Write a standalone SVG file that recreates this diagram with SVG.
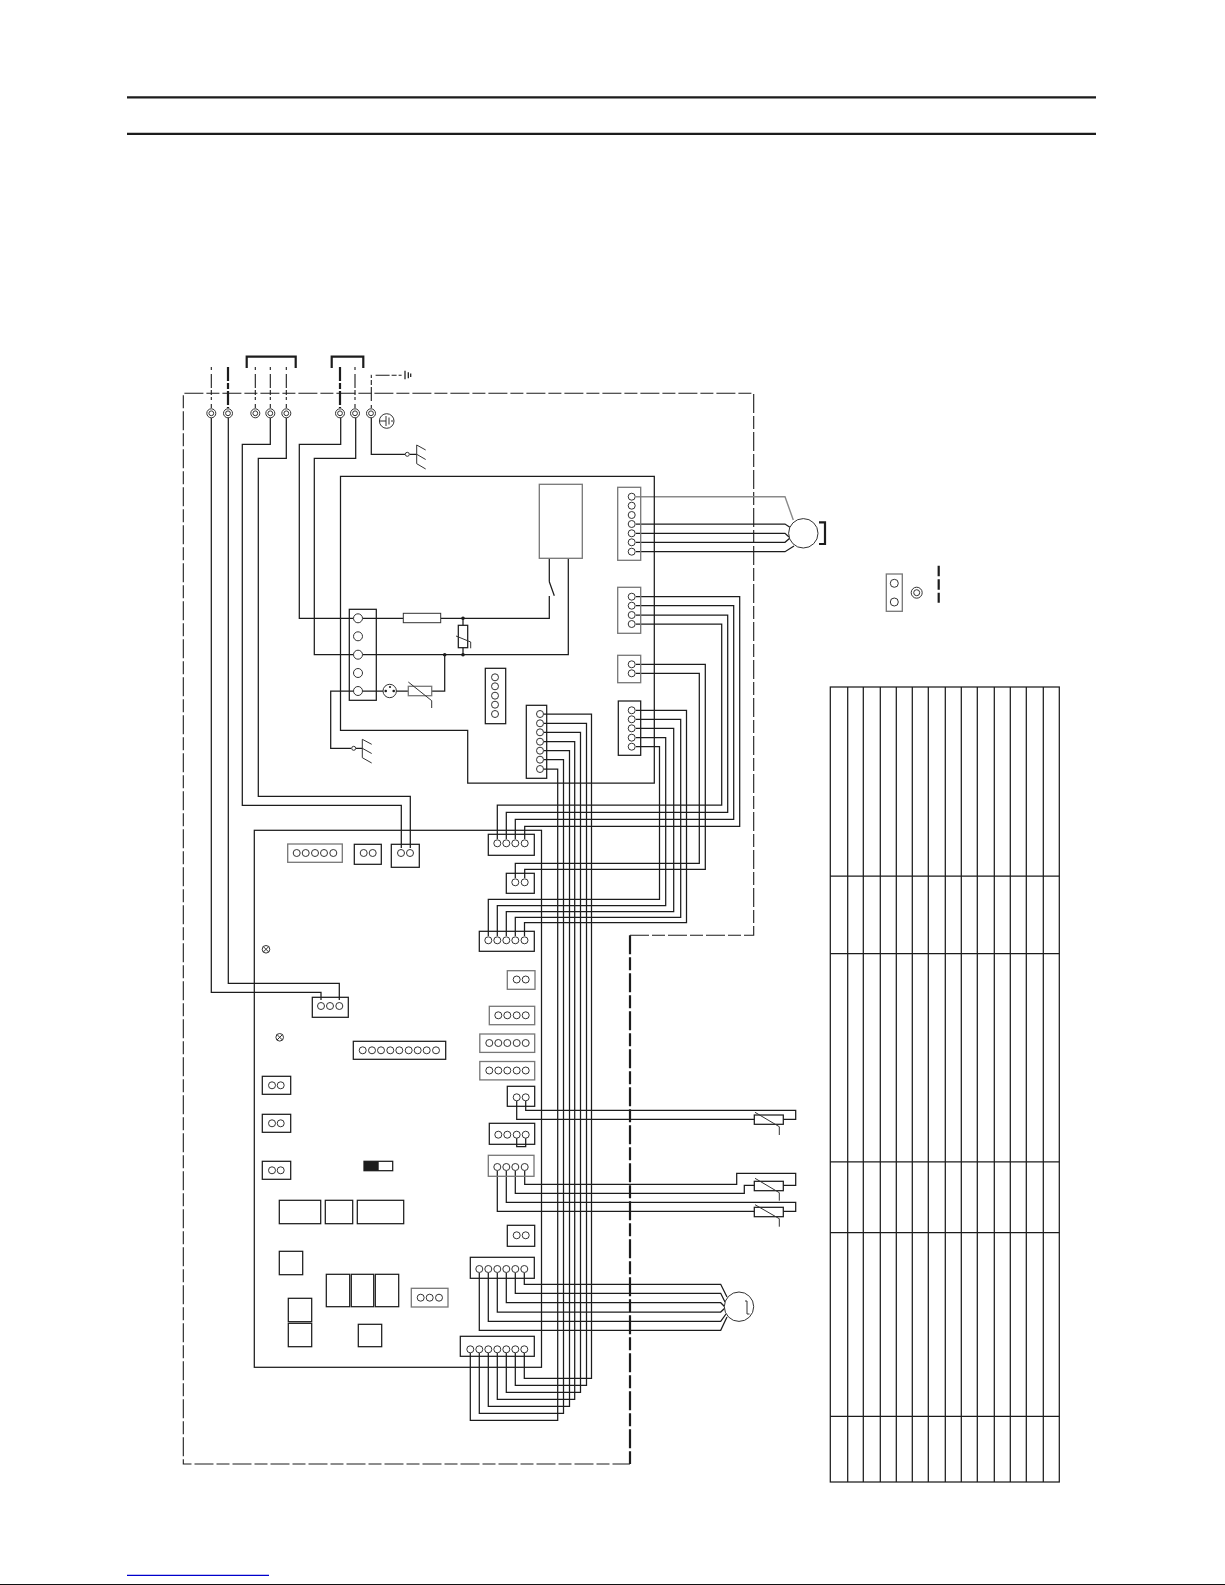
<svg xmlns="http://www.w3.org/2000/svg" width="1225" height="1585" viewBox="0 0 1225 1585">
<style>
.w{fill:none;stroke:#1c1c1c;stroke-width:1.25}
.g{fill:none;stroke:#8a8a8a;stroke-width:1.4}
.b{fill:none;stroke:#1c1c1c;stroke-width:1.25}
.bg{fill:none;stroke:#777;stroke-width:1.3}
.p{fill:#fff;stroke:#333;stroke-width:1}
.t{fill:none;stroke:#333;stroke-width:1}
.d{fill:none;stroke:#1c1c1c;stroke-width:1.1;stroke-dasharray:3 4 14 2 5 2}
.dk{fill:none;stroke:#1c1c1c;stroke-width:2.2;stroke-dasharray:14 2 6 2}
.f{fill:none;stroke:#1c1c1c;stroke-width:1.1;stroke-dasharray:19 3 13 3}
.fk{fill:none;stroke:#1c1c1c;stroke-width:2.2;stroke-dasharray:19 3 13 3}
.h{fill:none;stroke:#1c1c1c;stroke-width:2.2}
</style>
<g id="page-rules">
<path class="h" d="M127 97.3H1096M127 133.8H1096"/>
<path d="M127 1575.3H269" fill="none" stroke="#0000cc" stroke-width="1.2"/>
<rect x="0" y="1584" width="1225" height="1" fill="#111"/>
</g>
<g id="frame">
<path class="f" d="M630 935.3H753.7V393.3H183.3V1464H630"/>
<path class="fk" d="M630 935.3V1464"/>
</g>
<g id="brackets">
<path class="h" d="M246.7 368V356.7H295.7V368M331.7 368V356.7H363.3V368M819 522.3H825V544H819"/>
</g>
<g id="connectors">
<path class="d" d="M211.3 367V408M255.3 367V408M270.3 367V408M286.3 367V408M355 367V408M371.3 408V375.3H405"/>
<path class="dk" d="M228 367V408M340 367V408"/>
<path class="w" d="M228.3 418V983.3H339.3V1000M211.3 418V992.3H321V1000"/>
<path class="w" d="M270.3 418V444.3H242.3V805.3H401.3V848M286.3 418V458.3H258.3V796.3H410.3V848"/>
<path class="w" d="M340.7 418V444.3H299.3V618.3H353.5M355.7 418V458.3H314.3V654.7H353.5"/>
<path class="w" d="M371.3 418V454.3H405M409.5 454.3H416.7"/>
<path class="w" d="M362.5 618.3H403.3M440.7 618.3H549.3V596M549.3 581.7V558.3M549.3 581.7L554.3 595.7"/>
<path class="w" d="M362.5 654.7H568.3V558.3"/>
<path class="w" d="M463 618.3V625.3M463 647.7V654.7"/>
<path class="w" d="M444.7 654.7V691H431.7M408.3 691H362.5M353.5 691H330.7V748.3H351.3M355.7 748.3H362.3"/>
<path class="w" d="M544 714H591.5V1378.3H524.3V1353M544 723.3H586.5V1385.3H515.3V1353M544 732.3H580.5V1392.3H506.3V1353M544 741.7H574.7V1399.3H497.3V1353M544 750.7H569.5V1406.3H488.3V1353M544 759.7H563.5V1413.3H479.3V1353M544 769H557.7V1420.3H470.3V1353"/>
<path class="g" d="M636 496.7H785L793.3 520"/>
<path class="w" d="M636 524H785L791 528M636 533.3H785L789 537M636 542.3H785L790 538M636 551.7H785L794 546"/>
<path class="w" d="M636 596.7H739.7V826.3H524.7V839M636 605.7H733.7V819.3H515.3V839M636 615H727.7V812.3H506.3V839M636 624H721.7V805H497.3V839"/>
<path class="w" d="M636 664.3H705.3V869.3H524.7V878M636 673.3H699.3V863.3H515.3V878"/>
<path class="w" d="M636 710.3H686.5V922.7H524.5V936M636 719.3H680.7V917.3H515.3V936M636 728.3H673.7V911.7H506.3V936M636 737.7H665.7V905.7H497.3V936M636 746.7H659.5V899.3H488.3V936"/>
<path class="w" d="M525.7 1101V1110.3H795.7V1119.3H783.3M516.7 1101V1119.3H754.3"/>
<path class="w" d="M516.7 1138V1146.7H525.7V1138"/>
<path class="w" d="M524.7 1171V1184.3H736.7V1173.3H795.7V1185.3H783.3M515.3 1171V1193.3H744.3V1185.3H754.3"/>
<path class="w" d="M506.3 1171V1202.3H795.7V1211.3H783.3M497.3 1171V1211.3H754.3"/>
<path class="w" d="M524.3 1273V1284.3H720.7L727 1297M515.3 1273V1293.3H720.7L725 1302M506.3 1273V1302.7H720.7L725 1307M497.3 1273V1312H720.7L725 1308M488.3 1273V1321.3H720.7L726 1314M479.3 1273V1330.3H720.7L727 1317"/>
</g>
<g id="pcb-upper"><path class="w" d="M340.5 476.3H654.3V783H467.7V730.3H340.5Z"/></g>
<g id="pcb-main"><rect class="b" x="254.3" y="830.3" width="287.2" height="537"/></g>
<g id="terminals">
<g fill="#fff" stroke="#333" stroke-width="1">
<circle cx="211.3" cy="413.3" r="4.5"/><circle cx="228" cy="413.3" r="4.5"/><circle cx="255.3" cy="413.3" r="4.5"/><circle cx="270.3" cy="413.3" r="4.5"/><circle cx="286.3" cy="413.3" r="4.5"/><circle cx="340" cy="413.3" r="4.5"/><circle cx="355" cy="413.3" r="4.5"/><circle cx="371" cy="413.3" r="4.5"/>
<circle cx="211.3" cy="413.3" r="2.4"/><circle cx="228" cy="413.3" r="2.4"/><circle cx="255.3" cy="413.3" r="2.4"/><circle cx="270.3" cy="413.3" r="2.4"/><circle cx="286.3" cy="413.3" r="2.4"/><circle cx="340" cy="413.3" r="2.4"/><circle cx="355" cy="413.3" r="2.4"/><circle cx="371" cy="413.3" r="2.4"/>
</g>
</g>
<g id="earth-top"><path class="w" d="M405 370.7V379.3"/><path class="w" stroke-width="2" d="M408.3 372.3V378.3M410.7 373.5V377"/></g>
<g id="earth-mark"><circle class="t" cx="386.7" cy="421" r="7.3"/><path class="t" d="M380 421H386M386 416V426M389 417.5V424.5M392 420V422"/></g>
<g id="chassis-1"><circle class="p" cx="407.3" cy="454.3" r="2"/><path class="t" d="M416.7 445V463.7M416.7 445L425.7 450M416.7 454.3L425.7 459.5M416.7 463.7L425.7 469"/></g>
<g id="chassis-2"><circle class="p" cx="353.7" cy="748.3" r="2"/><path class="t" d="M362.3 739.3V757.7M362.3 739.3L371.7 744.3M362.3 748.3L371.7 753.5M362.3 757.7L371.7 763"/></g>
<g id="relay-box"><rect class="bg" x="539.3" y="484.3" width="43" height="74"/></g>
<g id="terminal-block"><rect class="b" x="349.3" y="609.3" width="27" height="91"/>
<circle class="p" cx="358" cy="618.3" r="4.5"/><circle class="p" cx="358" cy="636.3" r="4.5"/><circle class="p" cx="358" cy="654.7" r="4.5"/><circle class="p" cx="358" cy="673" r="4.5"/><circle class="p" cx="358" cy="691" r="4.5"/></g>
<g id="fuse"><rect class="p" x="403.3" y="613.3" width="37.4" height="9.4"/></g>
<g id="varistor-1"><rect class="b" x="458.3" y="625.3" width="9.4" height="22.4"/><path class="t" d="M456 636L470.7 642V648.3"/></g>
<g id="dots"><circle cx="463" cy="618.3" r="1.8" fill="#1c1c1c"/><circle cx="463" cy="654.7" r="1.8" fill="#1c1c1c"/><circle cx="444.7" cy="654.7" r="1.8" fill="#1c1c1c"/></g>
<g id="varistor-2"><rect class="bg" x="408.3" y="686.3" width="23.4" height="9.4"/><path class="t" d="M408.3 682L431.7 700.7V708"/></g>
<g id="thermal-fuse"><circle class="p" cx="389.7" cy="691" r="6.7"/><circle cx="385.7" cy="691" r="1.3" fill="#1c1c1c"/><circle cx="393.7" cy="691" r="1.3" fill="#1c1c1c"/><circle cx="390" cy="687" r="1.1" fill="#1c1c1c"/></g>
<g id="cn-5a"><rect class="b" x="485.3" y="668.3" width="20.4" height="55.4"/>
<circle class="p" cx="495" cy="677.3" r="3.5"/><circle class="p" cx="495" cy="686.3" r="3.5"/><circle class="p" cx="495" cy="695.7" r="3.5"/><circle class="p" cx="495" cy="704.7" r="3.5"/><circle class="p" cx="495" cy="714" r="3.5"/></g>
<g id="cn-7a"><rect class="b" x="526.3" y="705.3" width="20.4" height="73"/>
<circle class="p" cx="540" cy="714" r="3.5"/><circle class="p" cx="540" cy="723.3" r="3.5"/><circle class="p" cx="540" cy="732.3" r="3.5"/><circle class="p" cx="540" cy="741.7" r="3.5"/><circle class="p" cx="540" cy="750.7" r="3.5"/><circle class="p" cx="540" cy="759.7" r="3.5"/><circle class="p" cx="540" cy="769" r="3.5"/></g>
<g id="cn-7b"><rect class="bg" x="617.7" y="487.3" width="23" height="73"/>
<circle class="p" cx="631.7" cy="496.7" r="3.5"/><circle class="p" cx="631.7" cy="505.7" r="3.5"/><circle class="p" cx="631.7" cy="515" r="3.5"/><circle class="p" cx="631.7" cy="524" r="3.5"/><circle class="p" cx="631.7" cy="533.3" r="3.5"/><circle class="p" cx="631.7" cy="542.3" r="3.5"/><circle class="p" cx="631.7" cy="551.7" r="3.5"/></g>
<g id="cn-4a"><rect class="bg" x="617.7" y="587.3" width="23" height="46"/>
<circle class="p" cx="631.7" cy="596.7" r="3.5"/><circle class="p" cx="631.7" cy="605.7" r="3.5"/><circle class="p" cx="631.7" cy="615" r="3.5"/><circle class="p" cx="631.7" cy="624" r="3.5"/></g>
<g id="cn-2a"><rect class="bg" x="617.7" y="655.3" width="23" height="27.4"/>
<circle class="p" cx="631.7" cy="664.3" r="3.5"/><circle class="p" cx="631.7" cy="673.3" r="3.5"/></g>
<g id="cn-5b"><rect class="b" x="618.3" y="701" width="22.4" height="54.3"/>
<circle class="p" cx="631.7" cy="710.3" r="3.5"/><circle class="p" cx="631.7" cy="719.3" r="3.5"/><circle class="p" cx="631.7" cy="728.3" r="3.5"/><circle class="p" cx="631.7" cy="737.7" r="3.5"/><circle class="p" cx="631.7" cy="746.7" r="3.5"/></g>
<g id="motor-1"><circle class="p" cx="803.3" cy="533.3" r="14.7"/></g>
<g id="cn-p5"><rect class="bg" x="287.7" y="844" width="54.6" height="18.3"/>
<circle class="p" cx="296.7" cy="853" r="3.5"/><circle class="p" cx="305.7" cy="853" r="3.5"/><circle class="p" cx="315" cy="853" r="3.5"/><circle class="p" cx="324" cy="853" r="3.5"/><circle class="p" cx="333.3" cy="853" r="3.5"/></g>
<g id="cn-p2a"><rect class="b" x="354.3" y="844.3" width="27" height="20"/>
<circle class="p" cx="363.7" cy="853" r="3.5"/><circle class="p" cx="372.7" cy="853" r="3.5"/></g>
<g id="cn-p2b"><rect class="b" x="391.3" y="844.3" width="28" height="23"/>
<circle class="p" cx="401" cy="853" r="3.5"/><circle class="p" cx="410" cy="853" r="3.5"/></g>
<g id="led-1"><circle class="t" cx="266" cy="949.3" r="3.8"/><path class="t" d="M263.3 946.6L268.7 952M268.7 946.6L263.3 952"/></g>
<g id="led-2"><circle class="t" cx="279.7" cy="1037.3" r="3.8"/><path class="t" d="M277 1034.6L282.4 1040M282.4 1034.6L277 1040"/></g>
<g id="cn-p3"><rect class="b" x="312.3" y="997.3" width="36" height="20"/>
<circle class="p" cx="321" cy="1006" r="3.5"/><circle class="p" cx="330" cy="1006" r="3.5"/><circle class="p" cx="339.3" cy="1006" r="3.5"/></g>
<g id="cn-p9"><rect class="b" x="353.3" y="1041.3" width="92.4" height="18"/>
<circle class="p" cx="362.7" cy="1050.3" r="3.5"/><circle class="p" cx="372" cy="1050.3" r="3.5"/><circle class="p" cx="381" cy="1050.3" r="3.5"/><circle class="p" cx="390.3" cy="1050.3" r="3.5"/><circle class="p" cx="399.3" cy="1050.3" r="3.5"/><circle class="p" cx="408.7" cy="1050.3" r="3.5"/><circle class="p" cx="417.7" cy="1050.3" r="3.5"/><circle class="p" cx="426.7" cy="1050.3" r="3.5"/><circle class="p" cx="436" cy="1050.3" r="3.5"/></g>
<g id="cn-l1"><rect class="b" x="262.3" y="1076.3" width="28.4" height="18"/><circle class="p" cx="272" cy="1085.3" r="3.5"/><circle class="p" cx="280.7" cy="1085.3" r="3.5"/></g>
<g id="cn-l2"><rect class="b" x="262.3" y="1114.3" width="28.4" height="18"/><circle class="p" cx="272" cy="1123.3" r="3.5"/><circle class="p" cx="280.7" cy="1123.3" r="3.5"/></g>
<g id="cn-l3"><rect class="b" x="262.3" y="1161.3" width="28.4" height="18"/><circle class="p" cx="272" cy="1170.3" r="3.5"/><circle class="p" cx="280.7" cy="1170.3" r="3.5"/></g>
<g id="dip-switch"><rect class="b" x="364" y="1161.3" width="28.7" height="9.4"/><rect x="364" y="1161.3" width="14.7" height="9.4" fill="#1c1c1c"/></g>
<g id="comp-1"><rect class="b" x="279.3" y="1200.3" width="41.4" height="23.4"/></g>
<g id="comp-2"><rect class="b" x="325.3" y="1200.3" width="27.4" height="23.4"/></g>
<g id="comp-3"><rect class="b" x="357.3" y="1200.3" width="46.4" height="23.4"/></g>
<g id="comp-4"><rect class="b" x="279.3" y="1251.3" width="23.4" height="23.4"/></g>
<g id="relay-1"><rect class="b" x="326.3" y="1274.3" width="23.4" height="32.4"/></g>
<g id="relay-2"><rect class="b" x="351.3" y="1274.3" width="22.4" height="32.4"/></g>
<g id="relay-3"><rect class="b" x="375.3" y="1274.3" width="23.4" height="32.4"/></g>
<g id="comp-5"><rect class="b" x="288.3" y="1298.3" width="23.4" height="23.4"/></g>
<g id="comp-6"><rect class="b" x="288.3" y="1323.3" width="23.4" height="23.4"/></g>
<g id="comp-7"><rect class="b" x="358.3" y="1324.3" width="23.4" height="22.4"/></g>
<g id="cn-p3b"><rect class="bg" x="411.3" y="1288.3" width="36.7" height="18.7"/>
<circle class="p" cx="420.7" cy="1297.7" r="3.5"/><circle class="p" cx="429.7" cy="1297.7" r="3.5"/><circle class="p" cx="439" cy="1297.7" r="3.5"/></g>
<g id="cn-r4a"><rect class="b" x="488.3" y="834.3" width="46" height="21"/>
<circle class="p" cx="497.3" cy="843.3" r="3.5"/><circle class="p" cx="506.3" cy="843.3" r="3.5"/><circle class="p" cx="515.3" cy="843.3" r="3.5"/><circle class="p" cx="524.7" cy="843.3" r="3.5"/></g>
<g id="cn-r2a"><rect class="b" x="506.3" y="873.3" width="28" height="20"/>
<circle class="p" cx="515.3" cy="882.3" r="3.5"/><circle class="p" cx="524.7" cy="882.3" r="3.5"/></g>
<g id="cn-r5a"><rect class="b" x="479.3" y="931.3" width="55" height="20"/>
<circle class="p" cx="488.3" cy="940.3" r="3.5"/><circle class="p" cx="497.3" cy="940.3" r="3.5"/><circle class="p" cx="506.3" cy="940.3" r="3.5"/><circle class="p" cx="515.3" cy="940.3" r="3.5"/><circle class="p" cx="524.5" cy="940.3" r="3.5"/></g>
<g id="cn-r2b"><rect class="bg" x="507.3" y="970.7" width="27.7" height="18.6"/>
<circle class="p" cx="516.7" cy="979.5" r="3.5"/><circle class="p" cx="525.7" cy="979.5" r="3.5"/></g>
<g id="cn-r4b"><rect class="bg" x="489.3" y="1006.3" width="45.4" height="18.4"/>
<circle class="p" cx="498.3" cy="1015.3" r="3.5"/><circle class="p" cx="507.3" cy="1015.3" r="3.5"/><circle class="p" cx="516.7" cy="1015.3" r="3.5"/><circle class="p" cx="525.7" cy="1015.3" r="3.5"/></g>
<g id="cn-r5b"><rect class="bg" x="479.8" y="1034" width="54.9" height="18.4"/>
<circle class="p" cx="489.3" cy="1043" r="3.5"/><circle class="p" cx="498.3" cy="1043" r="3.5"/><circle class="p" cx="507.3" cy="1043" r="3.5"/><circle class="p" cx="516.7" cy="1043" r="3.5"/><circle class="p" cx="525.7" cy="1043" r="3.5"/></g>
<g id="cn-r5c"><rect class="bg" x="479.8" y="1061.5" width="54.9" height="18.4"/>
<circle class="p" cx="489.3" cy="1070.5" r="3.5"/><circle class="p" cx="498.3" cy="1070.5" r="3.5"/><circle class="p" cx="507.3" cy="1070.5" r="3.5"/><circle class="p" cx="516.7" cy="1070.5" r="3.5"/><circle class="p" cx="525.7" cy="1070.5" r="3.5"/></g>
<g id="cn-r2c"><rect class="b" x="507.3" y="1086.3" width="27.4" height="20"/>
<circle class="p" cx="516.7" cy="1097.3" r="3.5"/><circle class="p" cx="525.7" cy="1097.3" r="3.5"/></g>
<g id="cn-r4c"><rect class="b" x="489.3" y="1123.3" width="45.4" height="21"/>
<circle class="p" cx="498.3" cy="1134.7" r="3.5"/><circle class="p" cx="507.3" cy="1134.7" r="3.5"/><circle class="p" cx="516.7" cy="1134.7" r="3.5"/><circle class="p" cx="525.7" cy="1134.7" r="3.5"/></g>
<g id="cn-r4d"><rect class="bg" x="488.3" y="1155.3" width="45.7" height="21"/>
<circle class="p" cx="497.3" cy="1167" r="3.5"/><circle class="p" cx="506.3" cy="1167" r="3.5"/><circle class="p" cx="515.3" cy="1167" r="3.5"/><circle class="p" cx="524.7" cy="1167" r="3.5"/></g>
<g id="cn-r2d"><rect class="b" x="507.3" y="1225.3" width="27.4" height="21"/>
<circle class="p" cx="516.7" cy="1235.3" r="3.5"/><circle class="p" cx="525.7" cy="1235.3" r="3.5"/></g>
<g id="cn-r6"><rect class="b" x="470.3" y="1257.3" width="64" height="21"/>
<circle class="p" cx="479.3" cy="1269" r="3.5"/><circle class="p" cx="488.3" cy="1269" r="3.5"/><circle class="p" cx="497.3" cy="1269" r="3.5"/><circle class="p" cx="506.3" cy="1269" r="3.5"/><circle class="p" cx="515.3" cy="1269" r="3.5"/><circle class="p" cx="524.3" cy="1269" r="3.5"/></g>
<g id="cn-r7"><rect class="b" x="460.3" y="1336.3" width="74" height="20"/>
<circle class="p" cx="470.3" cy="1349.3" r="3.5"/><circle class="p" cx="479.3" cy="1349.3" r="3.5"/><circle class="p" cx="488.3" cy="1349.3" r="3.5"/><circle class="p" cx="497.3" cy="1349.3" r="3.5"/><circle class="p" cx="506.3" cy="1349.3" r="3.5"/><circle class="p" cx="515.3" cy="1349.3" r="3.5"/><circle class="p" cx="524.3" cy="1349.3" r="3.5"/></g>
<g id="th-1"><rect class="b" x="754.3" y="1115" width="29" height="9.3"/><path class="t" d="M755 1112.3L779.3 1126.7V1135"/></g>
<g id="th-2"><rect class="b" x="754.3" y="1181.3" width="29" height="9.4"/><path class="t" d="M755 1178.3L779.3 1192.7V1200.7"/></g>
<g id="th-3"><rect class="b" x="754.3" y="1207.3" width="29" height="9.4"/><path class="t" d="M755 1204.7L779.3 1218.7V1226.7"/></g>
<g id="motor-2"><circle class="p" cx="739" cy="1306.7" r="14.7"/><path class="t" d="M745 1301H747V1314H749.5"/></g>
<g id="legend"><rect class="bg" x="886.3" y="574" width="16" height="37.3"/><circle class="p" cx="894.3" cy="583.3" r="4"/><circle class="p" cx="894.3" cy="602" r="4"/>
<circle class="p" cx="916.7" cy="592.7" r="5.5"/><circle class="p" cx="916.7" cy="592.7" r="3"/>
<path d="M938.7 565.7V602.7" fill="none" stroke="#1c1c1c" stroke-width="2.2" stroke-dasharray="10.5 3"/></g>
<g id="table">
<rect class="b" x="830.3" y="687" width="229" height="795"/>
<path class="w" d="M847.7 687V1482M863.3 687V1482M880.3 687V1482M896.3 687V1482M912.3 687V1482M928.3 687V1482M945.3 687V1482M961.3 687V1482M977.3 687V1482M994.3 687V1482M1010.3 687V1482M1026.3 687V1482M1043.3 687V1482"/>
<path class="w" d="M830.3 876H1059.3M830.3 953.7H1059.3M830.3 1161.8H1059.3M830.3 1232.5H1059.3M830.3 1416.4H1059.3"/>
</g>
</svg>
